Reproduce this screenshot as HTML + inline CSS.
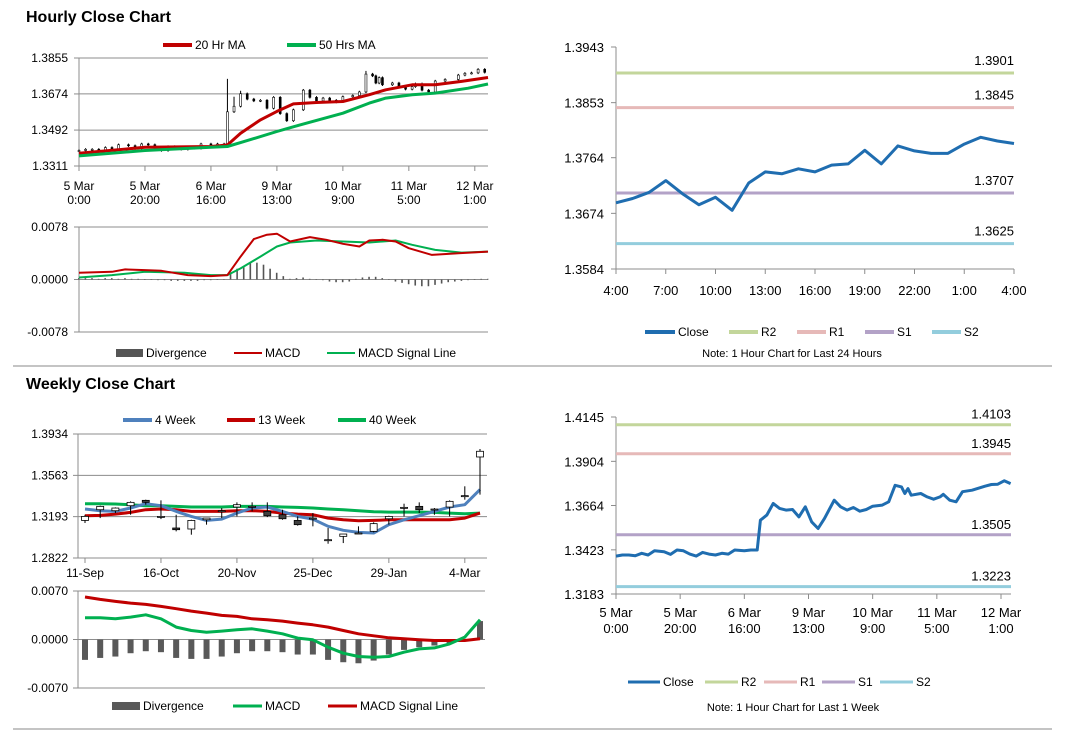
<!DOCTYPE html>
<html><head><meta charset="utf-8"><style>
html,body{margin:0;padding:0;background:#fff;}
svg{display:block;font-family:"Liberation Sans",Arial,sans-serif;}
</style></head><body>
<svg id="chart" width="1066" height="733" viewBox="0 0 1066 733">
<text x="26" y="22" font-size="16" font-weight="bold" fill="#000">Hourly Close Chart</text>
<text x="26" y="389" font-size="16" font-weight="bold" fill="#000">Weekly Close Chart</text>
<line x1="13" y1="366" x2="1052" y2="366" stroke="#888"/>
<line x1="13" y1="729" x2="1052" y2="729" stroke="#888"/>
</svg>
<script>
const weekHours=[0,2,4,6,8,10,12,15,17,19,21,23,25,27,29,31,33,35,37,40,42,44,45,47,49,51,53,55,57,59,61,63,65,68,70,72,74,76,78,80,83,85,87,89,90,91,92,95,97,99,101,102,104,106,108,111,115,117,119,121,123];
const weekClose=[1.3389,1.3395,1.3395,1.3391,1.3404,1.3395,1.3418,1.3413,1.3398,1.3422,1.3418,1.3400,1.3389,1.3409,1.3400,1.3395,1.3404,1.3400,1.3422,1.3418,1.3422,1.3422,1.3584,1.3612,1.3675,1.3648,1.3639,1.3642,1.3602,1.3657,1.3575,1.3539,1.3594,1.3693,1.3657,1.3639,1.3653,1.3633,1.3642,1.3660,1.3666,1.3684,1.3774,1.3765,1.3729,1.3756,1.3720,1.3729,1.3711,1.3698,1.3711,1.3725,1.3693,1.3684,1.3739,1.3747,1.3769,1.3778,1.3780,1.3798,1.3783];
const spikeHigh=[0,0,0,0,0,0,0,0,0,0,0,0,0,0,0,0,0,0,0,0,0,0,1.3750,1.3660,1.3690,0,0,0,0,0,0,0,0,0,0,0,0,0,0,0,0,0,1.3790,0,0,0,0,0,0,0,0,0,0,0,0,0,0,0,0,0,0];
const ma20Hours=[0,20,40,45,49,55,60,65,72,80,88,93,101,108,116,124];
const ma20Vals=[1.3375,1.3405,1.3409,1.3417,1.3476,1.3543,1.3586,1.3624,1.3631,1.3636,1.3670,1.3695,1.3720,1.3720,1.3737,1.3757];
const ma50Hours=[0,20,40,45,50,60,67,80,88,93,101,108,118,124];
const ma50Vals=[1.3362,1.3389,1.3405,1.3409,1.3434,1.3485,1.3518,1.3577,1.3628,1.3653,1.3670,1.3678,1.3703,1.3724];
const hourlyYTicks=[1.3311,1.3492,1.3674,1.3855];
const hourlyXTicks=[[0,'5 Mar','0:00'],[20,'5 Mar','20:00'],[40,'6 Mar','16:00'],[60,'9 Mar','13:00'],[80,'10 Mar','9:00'],[100,'11 Mar','5:00'],[120,'12 Mar','1:00']];
const macdHours=[0,10,14,20,25,33,40,45,49,53,57,60,64,70,75,80,85,88,92,96,100,107,115,124];
const macdVals=[0.0010,0.00115,0.0015,0.0014,0.0013,0.00065,0.0005,0.00065,0.0034,0.0060,0.00665,0.0068,0.00565,0.0063,0.0059,0.0053,0.0049,0.0058,0.0059,0.00565,0.00465,0.00365,0.0039,0.00415];
const sigHours=[0,10,20,32,40,45,49,55,60,64,72,80,88,96,101,108,116,124];
const sigVals=[0.0003,0.00065,0.00115,0.0010,0.00065,0.00065,0.00165,0.0034,0.0049,0.0055,0.0058,0.00565,0.0055,0.0058,0.00515,0.0044,0.0040,0.00415];
const divVals=[0.0002,0.0002,0.0002,0.0001,0.0002,0.0002,0.0001,0.0002,0.0001,0.0001,0.0000,
0,-0.0001,-0.0001,-0.0002,-0.0002,-0.0002,-0.0002,-0.0002,-0.0001,-0.0001,0,0,
0.0010,0.0016,0.0020,0.0024,0.0025,0.0022,0.0016,0.0010,0.0005,
0.0001,0.0002,0.0003,0.0001,0,-0.0001,-0.0003,-0.0004,-0.0004,-0.0003,0.0001,
0.0003,0.0004,0.0004,0.0002,0,
-0.0003,-0.0005,-0.0007,-0.0009,-0.0010,-0.0010,-0.0008,-0.0006,-0.0004,-0.0003,
-0.0002,-0.0001,0,0.0001,0.0001];
const macdYTicks=[-0.0078,0,0.0078];
const dayLabels=['4:00','7:00','10:00','13:00','16:00','19:00','22:00','1:00','4:00'];
const dayClose=[1.3691,1.3698,1.3708,1.3727,1.3706,1.3688,1.3700,1.3679,1.3723,1.3741,1.3738,1.3746,1.3741,1.3752,1.3754,1.3776,1.3754,1.3783,1.3775,1.3771,1.3771,1.3786,1.3797,1.3791,1.3787];
const dayYTicks=[1.3584,1.3674,1.3764,1.3853,1.3943];
const dayLevels=[1.3901,1.3845,1.3707,1.3625];
const weekLevels=[1.4103,1.3945,1.3505,1.3223];
const weekYTicks=[1.3183,1.3423,1.3664,1.3904,1.4145];
const wkLabels=['11-Sep','16-Oct','20-Nov','25-Dec','29-Jan','4-Mar'];
const wkOpen=[1.3159,1.3255,1.3246,1.3291,1.3339,1.3195,1.3091,1.3082,1.3165,1.3240,1.3279,1.3285,1.3240,1.3210,1.3159,1.3180,1.2986,1.3016,1.3046,1.3061,1.3174,1.3276,1.3285,1.3261,1.3279,1.3381,1.3728];
const wkClose=[1.3195,1.3285,1.3270,1.3321,1.3321,1.3195,1.3076,1.3159,1.3180,1.3246,1.3300,1.3285,1.3201,1.3174,1.3121,1.3180,1.2986,1.3037,1.3046,1.3130,1.3195,1.3276,1.3255,1.3261,1.3330,1.3381,1.3779];
const wkHigh=[1.3210,1.3291,1.3276,1.3330,1.3345,1.3339,1.3210,1.3165,1.3180,1.3270,1.3321,1.3321,1.3321,1.3255,1.3195,1.3225,1.3091,1.3037,1.3106,1.3142,1.3201,1.3309,1.3321,1.3270,1.3339,1.3465,1.3799];
const wkLow=[1.3136,1.3180,1.3225,1.3210,1.3300,1.3171,1.3061,1.3031,1.3121,1.3180,1.3195,1.3240,1.3189,1.3165,1.3112,1.3106,1.2950,1.2956,1.3037,1.3052,1.3121,1.3195,1.3225,1.3210,1.3195,1.3345,1.3390];
const ma4=[1.3261,1.3246,1.3240,1.3270,1.3309,1.3291,1.3240,1.3195,1.3159,1.3171,1.3225,1.3270,1.3279,1.3240,1.3195,1.3171,1.3106,1.3070,1.3052,1.3046,1.3121,1.3165,1.3201,1.3240,1.3279,1.3300,1.3435];
const ma13=[1.3201,1.3204,1.3216,1.3231,1.3255,1.3261,1.3255,1.3240,1.3240,1.3240,1.3246,1.3246,1.3240,1.3225,1.3216,1.3210,1.3180,1.3165,1.3156,1.3159,1.3165,1.3165,1.3165,1.3165,1.3165,1.3180,1.3225];
const ma40=[1.3309,1.3309,1.3306,1.3300,1.3291,1.3291,1.3285,1.3279,1.3279,1.3279,1.3285,1.3285,1.3285,1.3279,1.3276,1.3270,1.3261,1.3255,1.3246,1.3237,1.3234,1.3234,1.3234,1.3231,1.3225,1.3219,1.3225];
const wkYTicks=[1.2822,1.3193,1.3563,1.3934];
const wMacd=[0.00314,0.00314,0.00299,0.00323,0.00357,0.00299,0.00179,0.00130,0.00106,0.00121,0.0014,0.00154,0.00121,0.00082,0.0002,-0.00005,-0.00111,-0.00198,-0.00246,-0.00256,-0.00246,-0.00183,-0.00135,-0.00121,-0.00063,0.00034,0.00285];
const wSig=[0.00613,0.00579,0.0055,0.00526,0.00507,0.00478,0.00444,0.0041,0.00381,0.00348,0.00333,0.00299,0.00285,0.00266,0.00237,0.00212,0.00179,0.0013,0.00082,0.00053,0.00024,0.0001,-0.00005,-0.00014,-0.00014,-0.00014,0.0001];
const wDiv=[-0.00294,-0.00266,-0.00246,-0.00198,-0.00169,-0.00183,-0.00266,-0.0028,-0.0028,-0.00246,-0.00198,-0.00169,-0.00169,-0.00183,-0.00217,-0.00217,-0.00294,-0.00328,-0.00343,-0.00304,-0.00217,-0.0015,-0.00111,-0.00087,-0.00063,-0.00014,0.00266];
const wMacdTicks=[-0.0070,0,0.0070];

const NS='http://www.w3.org/2000/svg';
const svg=document.getElementById('chart');
function mk(tag,attrs,txt){const e=document.createElementNS(NS,tag);for(const k in attrs)e.setAttribute(k,attrs[k]);if(txt!==undefined)e.textContent=txt;svg.appendChild(e);return e;}
function lin(d0,d1,r0,r1){return v=>r0+(v-d0)*(r1-r0)/(d1-d0);}
function poly(xs,ys,fx,fy,color,w,name){
  const pts=xs.map((x,i)=>fx(x).toFixed(1)+','+fy(ys[i]).toFixed(1)).join(' ');
  const e=mk('polyline',{points:pts,fill:'none',stroke:color,'stroke-width':w,'stroke-linejoin':'round'});
  
  
  return e;
}
function txt(x,y,s,size,anchor,name){const e=mk('text',{x:x,y:y,'font-size':size,'text-anchor':anchor||'start',fill:'#000'},s);
  
  
  return e;}
function ln(x1,y1,x2,y2,c,w,name){const e=mk('line',{x1:x1,y1:y1,x2:x2,y2:y2,stroke:c,'stroke-width':w});
  
  
  return e;}
function legLine(x1,x2,y,c,w,label,name){
  ln(x1,y,x2,y,c,w,name+'-swatch');
  txt(x2+3,y+4,label,12,'start',name+'-label');
}
const fmt4=v=>v.toFixed(4);

const ax=lin(0,124,79,488), ay=lin(1.3311,1.3855,166,58);
hourlyYTicks.forEach(t=>{ln(79,ay(t),488,ay(t),'#8c8c8c',1,'h-gridline');ln(74,ay(t),79,ay(t),'#8c8c8c',1,'h-ytick');txt(68,ay(t)+4,fmt4(t),12,'end','h-ytick-label');});
ln(79,58,79,166,'#8c8c8c',1,'h-y-axis');
hourlyXTicks.forEach(t=>{const x=ax(t[0]);ln(x,166,x,171,'#8c8c8c',1,'h-xtick');txt(x,190,t[1],12,'middle','h-xtick-label');txt(x,204,t[2],12,'middle','h-xtick-label2');});
weekHours.forEach((h,i)=>{
  const o=i>0?weekClose[i-1]:weekClose[0], c=weekClose[i];
  const hi=Math.max(Math.max(o,c)+0.0006,spikeHigh[i]), lo=Math.min(o,c)-0.0006, x=ax(h);
  ln(x,ay(hi),x,ay(lo),'#000',1,'h-candle-wick');
  const r=mk('rect',{x:x-1,y:ay(Math.max(o,c)),width:2,height:Math.max(1,Math.abs(ay(o)-ay(c))),fill:c>=o?'#fff':'#000',stroke:'#000','stroke-width':0.6});
  
  
});
poly(ma20Hours,ma20Vals,ax,ay,'#c00000',3,'ma20-line');
poly(ma50Hours,ma50Vals,ax,ay,'#00b050',3,'ma50-line');
legLine(163,192,45,'#c00000',4,'20 Hr MA','legend-ma20');
legLine(287,316,45,'#00b050',4,'50 Hrs MA','legend-ma50');

const by=lin(-0.0078,0.0078,332,227);
macdYTicks.forEach(t=>{ln(79,by(t),488,by(t),'#8c8c8c',1,'hm-gridline');ln(74,by(t),79,by(t),'#8c8c8c',1,'hm-ytick');txt(68,by(t)+4,fmt4(t),12,'end','hm-ytick-label');});
ln(79,227,79,332,'#8c8c8c',1,'hm-y-axis');
divVals.forEach((v,i)=>{const x=ax(i*2);const r=mk('rect',{x:x-1,y:Math.min(by(v),by(0)),width:1.6,height:Math.max(0.5,Math.abs(by(v)-by(0))),fill:'#555'});
  
  });
poly(sigHours,sigVals,ax,by,'#00b050',2,'hm-signal-line');
poly(macdHours,macdVals,ax,by,'#c00000',2,'hm-macd-line');
(function(){const r=mk('rect',{x:116,y:349,width:27,height:8,fill:'#555'});})();
txt(146,357,'Divergence',12,'start','legend-divergence-label');
legLine(234,262,353,'#c00000',2,'MACD','legend-macd');
legLine(327,355,353,'#00b050',2,'MACD Signal Line','legend-signal');

const cx=lin(0,24,616,1014), cy=lin(1.3584,1.3943,269,47);
const levColors=['#c3d69b','#e6b9b8','#b3a2c7','#93cddd'];
const levNames=['r2','r1','s1','s2'];
ln(616,47,616,269,'#8c8c8c',1,'day-y-axis');ln(616,269,1014,269,'#8c8c8c',1,'day-x-axis');
dayYTicks.forEach(t=>{ln(611,cy(t),616,cy(t),'#8c8c8c',1,'day-ytick');txt(604,cy(t)+5,fmt4(t),13,'end','day-ytick-label');});
dayLabels.forEach((s,i)=>{const x=cx(i*3);ln(x,269,x,274,'#8c8c8c',1,'day-xtick');txt(x,295,s,13,'middle','day-xtick-label');});
dayLevels.forEach((v,i)=>{ln(616,cy(v),1014,cy(v),levColors[i],3,'day-level-'+levNames[i]);txt(1014,cy(v)-8,fmt4(v),13,'end','day-level-label-'+levNames[i]);});
poly(dayClose.map((v,i)=>i),dayClose,cx,cy,'#1f6db0',3,'day-close-line');
legLine(645,675,332,'#1f6db0',4,'Close','day-legend-close');
['R2','R1','S1','S2'].forEach((s,i)=>{const x1=[729,797,865,932][i];legLine(x1,x1+29,332,levColors[i],4,s,'day-legend-'+levNames[i]);});
txt(792,357,'Note: 1 Hour Chart for Last 24 Hours',11,'middle','day-note');

const dx=lin(0,120,616,1001), dy=lin(1.3183,1.4145,594,417);
ln(616,417,616,594,'#8c8c8c',1,'wk-y-axis');ln(616,594,1011,594,'#8c8c8c',1,'wk-x-axis');
weekYTicks.forEach(t=>{ln(611,dy(t),616,dy(t),'#8c8c8c',1,'wk-ytick');txt(604,dy(t)+5,fmt4(t),13,'end','wk-ytick-label');});
hourlyXTicks.forEach(t=>{const x=dx(t[0]);ln(x,594,x,599,'#8c8c8c',1,'wk-xtick');txt(x,617,t[1],13,'middle','wk-xtick-label');txt(x,633,t[2],13,'middle','wk-xtick-label2');});
weekLevels.forEach((v,i)=>{ln(616,dy(v),1011,dy(v),levColors[i],3,'wk-level-'+levNames[i]);txt(1011,dy(v)-6,fmt4(v),13,'end','wk-level-label-'+levNames[i]);});
poly(weekHours,weekClose,dx,dy,'#1f6db0',3,'wk-close-line');
legLine(628,660,682,'#1f6db0',3,'Close','wk-legend-close');
['R2','R1','S1','S2'].forEach((s,i)=>{const x1=[705,764,822,880][i];legLine(x1,x1+33,682,levColors[i],3,s,'wk-legend-'+levNames[i]);});
txt(793,711,'Note: 1 Hour Chart for  Last 1 Week',11,'middle','wk-note');

const ex=lin(0,26,85,480), ey=lin(1.2822,1.3934,558,434);
wkYTicks.forEach(t=>{ln(78,ey(t),487,ey(t),'#8c8c8c',1,'w-gridline');ln(73,ey(t),78,ey(t),'#8c8c8c',1,'w-ytick');txt(68,ey(t)+4,fmt4(t),12,'end','w-ytick-label');});
ln(78,434,78,558,'#8c8c8c',1,'w-y-axis');
wkLabels.forEach((s,i)=>{const x=ex(i*5);ln(x,558,x,563,'#8c8c8c',1,'w-xtick');txt(x,577,s,12,'middle','w-xtick-label');});
poly(wkOpen.map((v,i)=>i),ma40,ex,ey,'#00b050',3,'ma40w-line');
poly(wkOpen.map((v,i)=>i),ma13,ex,ey,'#c00000',3,'ma13w-line');
poly(wkOpen.map((v,i)=>i),ma4,ex,ey,'#4f81bd',3,'ma4w-line');
wkOpen.forEach((o,i)=>{const c=wkClose[i],x=ex(i);
  ln(x,ey(wkHigh[i]),x,ey(wkLow[i]),'#000',1,'w-candle-wick');
  const r=mk('rect',{x:x-3.5,y:ey(Math.max(o,c)),width:7,height:Math.max(1,Math.abs(ey(o)-ey(c))),fill:c>=o?'#fff':'#404040',stroke:'#000','stroke-width':0.8});
  
  });
legLine(123,152,420,'#4f81bd',4,'4 Week','legend-4wk');
legLine(227,255,420,'#c00000',4,'13 Week','legend-13wk');
legLine(338,366,420,'#00b050',4,'40 Week','legend-40wk');

const fy=lin(-0.0070,0.0070,688,591);
wMacdTicks.forEach(t=>{ln(78,fy(t),485,fy(t),'#8c8c8c',1,'wm-gridline');ln(73,fy(t),78,fy(t),'#8c8c8c',1,'wm-ytick');txt(68,fy(t)+4,fmt4(t),12,'end','wm-ytick-label');});
ln(78,591,78,688,'#8c8c8c',1,'wm-y-axis');
wDiv.forEach((v,i)=>{const x=ex(i);const r=mk('rect',{x:x-3,y:Math.min(fy(v),fy(0)),width:6,height:Math.abs(fy(v)-fy(0)),fill:'#595959'});
  
  });
poly(wMacd.map((v,i)=>i),wSig,ex,fy,'#c00000',3,'wm-signal-line');
poly(wMacd.map((v,i)=>i),wMacd,ex,fy,'#00b050',3,'wm-macd-line');
(function(){const r=mk('rect',{x:112,y:702,width:28,height:8,fill:'#595959'});})();
txt(143,710,'Divergence',12,'start','legend-w-divergence-label');
legLine(233,262,706,'#00b050',3,'MACD','legend-w-macd');
legLine(328,357,706,'#c00000',3,'MACD Signal Line','legend-w-signal');
</script>
</body></html>
